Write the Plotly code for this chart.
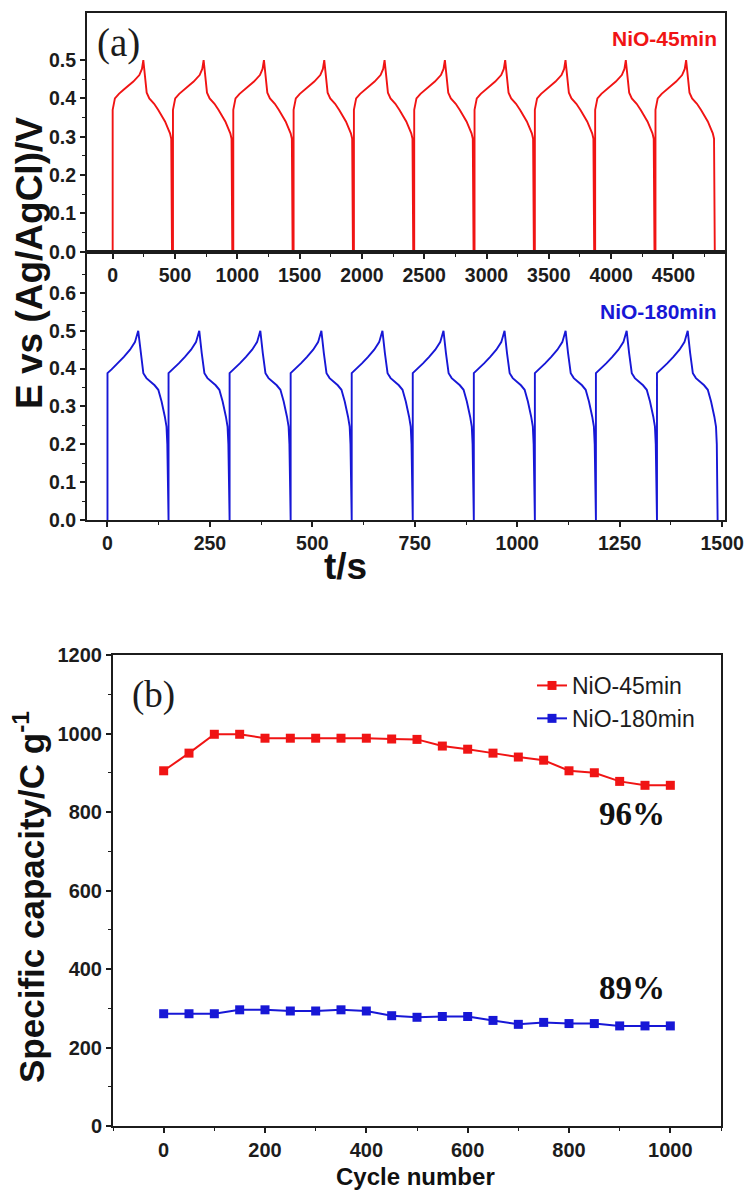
import numpy as np
import plotly.graph_objects as go

# ---------------- data ----------------
# Galvanostatic charge/discharge: one cycle profile (time offset in s, potential in V)
gcd45_t = [0, 0, 18, 50, 85, 125, 166, 214, 235, 246, 259, 273, 294, 333, 366, 420, 460, 470, 476]
gcd45_E = [0, 0.37, 0.40, 0.412, 0.422, 0.433, 0.444, 0.461, 0.477, 0.50, 0.466, 0.415, 0.40,
           0.386, 0.37, 0.34, 0.309, 0.295, 0.0]
gcd45_starts = [0, 484, 968, 1452, 1936, 2420, 2904, 3388, 3872, 4356]

gcd180_t = [0, 0, 10, 25, 40, 55, 67, 75, 81, 87.5, 95, 104, 115, 124, 132, 140, 144, 146, 148]
gcd180_E = [0, 0.388, 0.398, 0.414, 0.431, 0.45, 0.47, 0.50, 0.441, 0.388, 0.375, 0.366,
            0.356, 0.344, 0.313, 0.273, 0.247, 0.20, 0.0]
gcd180_starts = [0, 149, 298, 447, 596, 745, 894, 1043, 1192, 1341]

# Cycling stability
cycles = [0, 50, 100, 150, 200, 250, 300, 350, 400, 450, 500, 550, 600, 650, 700, 750,
          800, 850, 900, 950, 1000]
cap45 = [905, 950, 998, 998, 988, 988, 988, 988, 988, 986, 985, 968, 960, 950, 940, 932,
         905, 900, 878, 868, 868]
cap180 = [286, 286, 286, 296, 296, 293, 293, 296, 293, 281, 277, 279, 279, 269, 259, 264,
          261, 261, 255, 255, 255]
retention_labels = ["96%", "89%"]

RED = "#f01414"
BLUE = "#1717d6"
INK = "#1c1c1c"
SANS = "Liberation Sans, Arial, sans-serif"
SERIF = "Liberation Serif, Times New Roman, serif"

W, H = 748, 1190


def fx(p):
    return p / W


def fy(p):
    return 1 - p / H


def build(profile_t, profile_E, starts):
    t = np.concatenate([s + np.asarray(profile_t, float) for s in starts])
    e = np.concatenate([np.asarray(profile_E, float) for _ in starts])
    return t, e


t45, e45 = build(gcd45_t, gcd45_E, gcd45_starts)
t180, e180 = build(gcd180_t, gcd180_E, gcd180_starts)

fig = go.Figure()
fig.add_trace(go.Scatter(x=t45, y=e45, mode="lines", line=dict(color=RED, width=1.9),
                         xaxis="x", yaxis="y", showlegend=False))
fig.add_trace(go.Scatter(x=t180, y=e180, mode="lines", line=dict(color=BLUE, width=1.9),
                         xaxis="x2", yaxis="y2", showlegend=False))
fig.add_trace(go.Scatter(x=cycles, y=cap45, mode="lines+markers", name="NiO-45min",
                         line=dict(color=RED, width=2),
                         marker=dict(symbol="square", size=9, color=RED),
                         xaxis="x3", yaxis="y3"))
fig.add_trace(go.Scatter(x=cycles, y=cap180, mode="lines+markers", name="NiO-180min",
                         line=dict(color=BLUE, width=2),
                         marker=dict(symbol="square", size=9, color=BLUE),
                         xaxis="x3", yaxis="y3"))

tickfont_a = dict(family=SANS, size=19.5, color=INK, weight="bold")
tickfont_b = dict(family=SANS, size=20, color=INK, weight="bold")


def axis(domain, rng, tickvals, ticktext, minorvals, font, anchor):
    return dict(domain=domain, range=rng, anchor=anchor, showline=True, linewidth=2,
                linecolor=INK, mirror=True, ticks="outside", ticklen=5, tickwidth=1.6,
                tickcolor=INK, tickvals=tickvals, ticktext=ticktext, tickfont=font,
                showgrid=False, zeroline=False, automargin=False, fixedrange=True,
                minor=dict(tickvals=minorvals, ticks="outside", ticklen=3,
                           tickwidth=1.4, tickcolor=INK, showgrid=False))


xa_dom = [fx(87), fx(725)]
xt45 = list(range(0, 5000, 500))
xt180 = list(range(0, 1751, 250))[:7]
ya_ticks1 = [0, 0.1, 0.2, 0.3, 0.4, 0.5]
ya_ticks2 = [0, 0.1, 0.2, 0.3, 0.4, 0.5, 0.6]

fig.update_layout(
    width=W, height=H, margin=dict(l=0, r=0, t=0, b=0),
    paper_bgcolor="white", plot_bgcolor="white",
    xaxis=axis(xa_dom, [-206, 4914], xt45, [str(v) for v in xt45],
               [v + 250 for v in xt45], tickfont_a, "y"),
    yaxis=axis([fy(251.7), fy(13)], [0, 0.623], ya_ticks1, [f"{v:.1f}" for v in ya_ticks1],
               [0.05, 0.15, 0.25, 0.35, 0.45], tickfont_a, "x"),
    xaxis2=axis(xa_dom, [-50, 1507], xt180, [str(v) for v in xt180],
                [v + 125 for v in xt180[:-1]], tickfont_a, "y2"),
    yaxis2=axis([fy(520), fy(251.7)], [0, 0.709], ya_ticks2, [f"{v:.1f}" for v in ya_ticks2],
                [0.05, 0.15, 0.25, 0.35, 0.45, 0.55, 0.65], tickfont_a, "x2"),
    xaxis3=axis([fx(113), fx(721)], [-100, 1100], list(range(0, 1001, 200)),
                [str(v) for v in range(0, 1001, 200)], [-100, 100, 300, 500, 700, 900, 1100],
                tickfont_b, "y3"),
    yaxis3=axis([fy(1126), fy(655)], [0, 1200], list(range(0, 1201, 200)),
                [str(v) for v in range(0, 1201, 200)], list(range(100, 1200, 200)),
                tickfont_b, "x3"),
    legend=dict(x=fx(532), y=fy(664), xanchor="left", yanchor="top",
                font=dict(family=SANS, size=23, color=INK), bgcolor="rgba(0,0,0,0)",
                itemwidth=30, tracegroupgap=0),
    showlegend=True,
)

ann = [
    dict(text="(a)", x=fx(118), y=fy(43), font=dict(family=SERIF, size=39, color=INK)),
    dict(text="NiO-45min", x=fx(719), y=fy(38), xanchor="right",
         font=dict(family=SANS, size=21, color=RED, weight="bold")),
    dict(text="NiO-180min", x=fx(719), y=fy(312), xanchor="right",
         font=dict(family=SANS, size=21, color=BLUE, weight="bold")),
    dict(text="E vs (Ag/AgCl)/V", x=fx(29), y=fy(263), textangle=-90,
         font=dict(family=SANS, size=37, color="#111", weight="bold")),
    dict(text="t/s", x=fx(345), y=fy(566),
         font=dict(family=SANS, size=37, color="#111", weight="bold")),
    dict(text="(b)", x=fx(153), y=fy(695), font=dict(family=SERIF, size=37, color=INK)),
    dict(text="Specific capacity/C g<sup>-1</sup>", x=fx(29), y=fy(897), textangle=-90,
         font=dict(family=SANS, size=35, color="#111", weight="bold")),
    dict(text="Cycle number", x=fx(415), y=fy(1192), yanchor="bottom",
         font=dict(family=SANS, size=24, color="#111", weight="bold")),
]
for a in ann:
    a.update(xref="paper", yref="paper", showarrow=False)
    a.setdefault("xanchor", "center")
    a.setdefault("yanchor", "middle")

# retention percentages next to the last points
ann.append(dict(text=f"<b>{retention_labels[0]}</b>", x=925, y=795, xref="x3", yref="y3",
                showarrow=False, font=dict(family=SERIF, size=33, color="#111")))
ann.append(dict(text=f"<b>{retention_labels[1]}</b>", x=925, y=352, xref="x3", yref="y3",
                showarrow=False, font=dict(family=SERIF, size=33, color="#111")))
fig.update_layout(annotations=ann)

fig.write_html("out.html")
